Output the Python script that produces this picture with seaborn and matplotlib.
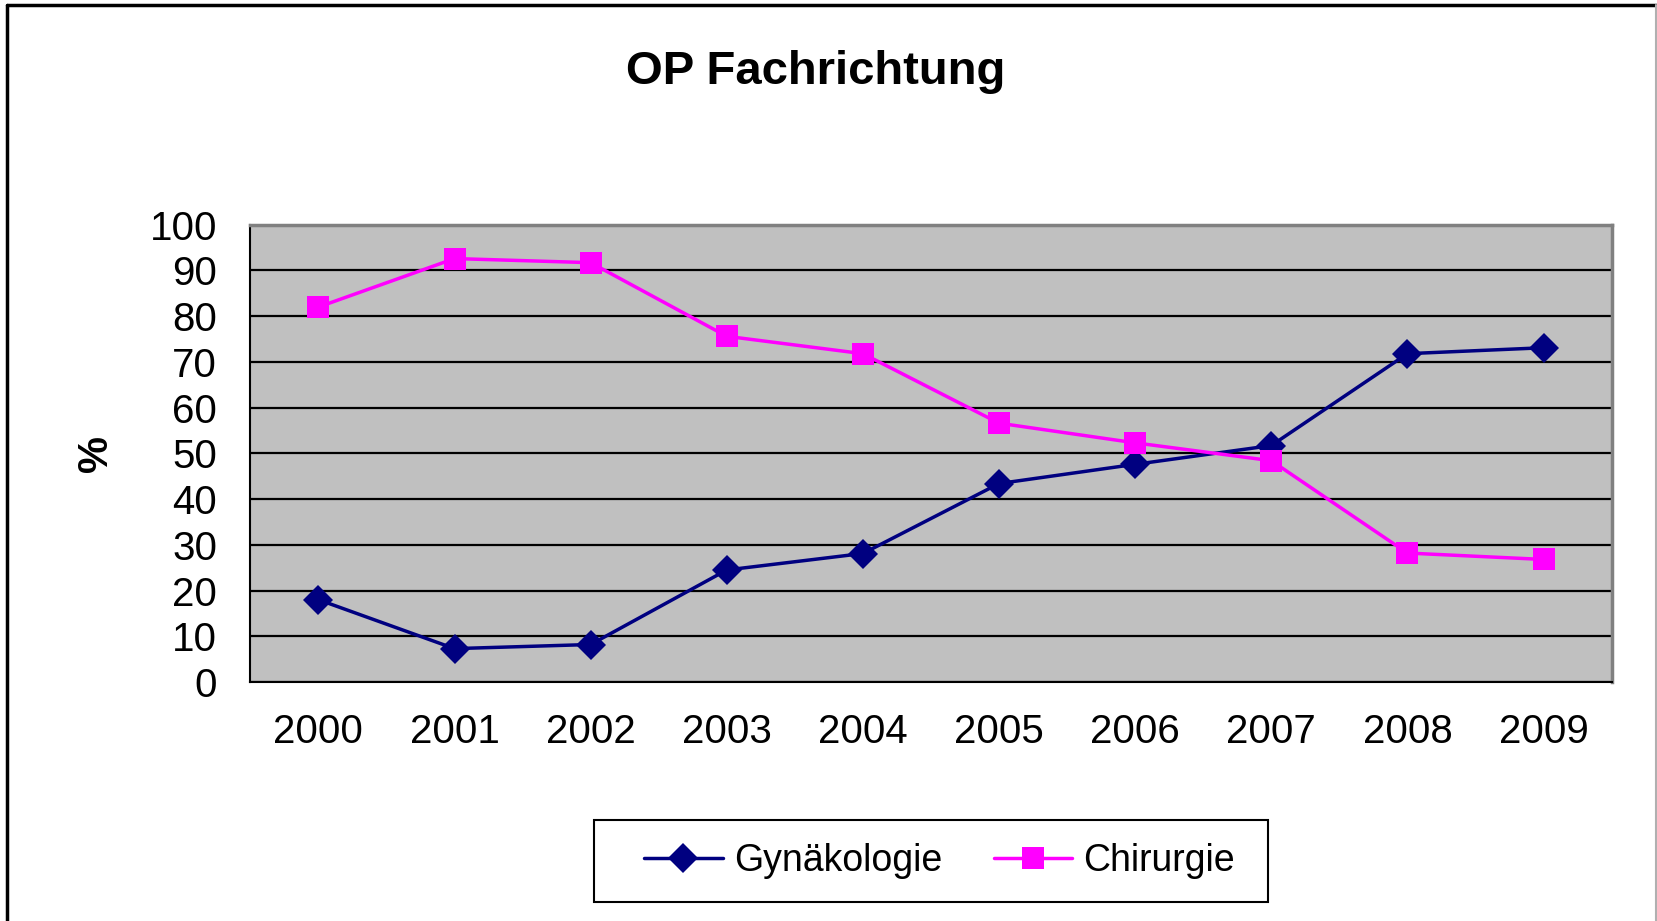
import pandas as pd
import matplotlib
matplotlib.use("Agg")
import matplotlib.pyplot as plt
import seaborn as sns
from matplotlib.lines import Line2D
from matplotlib.patches import Rectangle

jahre = [2000, 2001, 2002, 2003, 2004, 2005, 2006, 2007, 2008, 2009]
gynaekologie = [18.0, 7.3, 8.2, 24.5, 28.1, 43.4, 47.6, 51.7, 71.8, 73.1]
chirurgie = [82.0, 92.6, 91.7, 75.6, 71.8, 56.6, 52.3, 48.4, 28.2, 26.8]
serien = ['Gynäkologie', 'Chirurgie']
farben = {'Gynäkologie': '#000080', 'Chirurgie': '#FF00FF'}
marker = {'Gynäkologie': 'D', 'Chirurgie': 's'}
y_ticks = [0, 10, 20, 30, 40, 50, 60, 70, 80, 90, 100]

df = pd.DataFrame({
    'Jahr': jahre * 2,
    'Wert': gynaekologie + chirurgie,
    'Fachrichtung': [serien[0]] * len(jahre) + [serien[1]] * len(jahre),
})

sns.set_style('white')
plt.rcParams['font.family'] = ['Liberation Sans', 'DejaVu Sans']
plt.rcParams.update({'text.color': 'black', 'axes.labelcolor': 'black',
                     'xtick.color': 'black', 'ytick.color': 'black'})

groesse = {'Gynäkologie': 15, 'Chirurgie': 16}

fig = plt.figure(figsize=(16.58, 9.21), dpi=100)
ax = fig.add_axes([0.151, 0.2595, 0.821, 0.4965])
ax.set_facecolor('#C0C0C0')

sns.lineplot(data=df, x='Jahr', y='Wert', hue='Fachrichtung', style='Fachrichtung',
             palette=farben, markers=marker, dashes=False, markersize=15,
             linewidth=2.5, markeredgewidth=0, ax=ax, legend=False, zorder=3)
for linie, s in zip(ax.lines, serien):
    linie.set_markersize(groesse[s])

ax.set_xlim(jahre[0] - 0.5, jahre[-1] + 0.5)
ax.set_ylim(0, 100)
ax.set_yticks(y_ticks)
ax.set_xticks(jahre)
ax.set_xticklabels([str(j) for j in jahre])
ax.set_xticks([j - 0.5 for j in jahre] + [jahre[-1] + 0.5], minor=True)
ax.tick_params(axis='x', which='major', length=0, labelsize=29, pad=22)
ax.tick_params(axis='x', which='minor', length=12, width=1.3, direction='out', color='black')
ax.tick_params(axis='y', length=12, width=1.3, direction='out', labelsize=29, pad=12, color='black')
ax.yaxis.grid(True, color='black', linewidth=1.6)
ax.set_axisbelow(True)
ax.set_xlabel('')
ax.set_ylabel('%', fontsize=30, fontweight='bold', labelpad=24)

for s in ['left', 'bottom']:
    ax.spines[s].set_color('black')
    ax.spines[s].set_linewidth(1.5)
for s in ['top', 'right']:
    ax.spines[s].set_color('#808080')
    ax.spines[s].set_linewidth(2.5)

fig.suptitle('OP Fachrichtung', x=0.492, y=0.922, va='center', fontsize=34, fontweight='bold')

# Legende ohne eigenen Rahmen, Rahmen separat wie im Original
handles = [Line2D([], [], color=farben[s], marker=marker[s], markersize=groesse[s],
                  markeredgewidth=0, linewidth=2.5) for s in serien]
fig.legend(handles, serien, loc='center', bbox_to_anchor=(0.5667, 0.065), ncol=2,
           fontsize=27, frameon=False, handlelength=2.1, columnspacing=1.37,
           handletextpad=0.3, borderaxespad=0)
fig.add_artist(Rectangle((594 / 1658, 1 - 902 / 921), 674 / 1658, 82 / 921,
                         transform=fig.transFigure, facecolor='none',
                         edgecolor='black', linewidth=1.5))

fig.add_artist(Line2D([7 / 1658, 7 / 1658], [0, 1 - 5 / 921], color='black', linewidth=2.5,
                      transform=fig.transFigure))
fig.add_artist(Line2D([7 / 1658, 1], [1 - 5 / 921, 1 - 5 / 921], color='black', linewidth=2.5,
                      transform=fig.transFigure))
fig.add_artist(Line2D([1656 / 1658, 1656 / 1658], [0, 1 - 5 / 921], color='#B0B0B0', linewidth=1.5,
                      transform=fig.transFigure))

fig.savefig('out.png', dpi=100)
